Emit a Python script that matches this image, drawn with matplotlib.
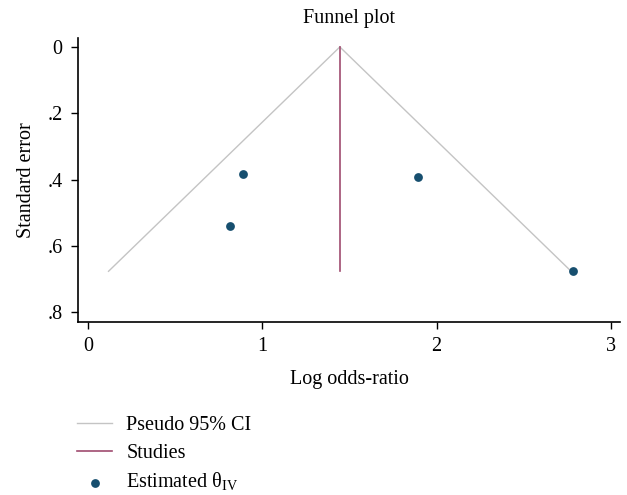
import matplotlib
matplotlib.use("Agg")
import matplotlib.pyplot as plt
import numpy as np

plt.rcParams['font.family'] = ['Liberation Serif', 'DejaVu Serif']
plt.rcParams['mathtext.fontset'] = 'custom'
plt.rcParams['mathtext.rm'] = 'Liberation Serif'

# study estimates (log odds-ratio) and their standard errors
log_or = [0.89, 0.815, 1.893, 2.78]
std_err = [0.384, 0.54, 0.393, 0.677]
theta_iv = 1.445
xticks = [0, 1, 2, 3]
yticks = [0, 0.2, 0.4, 0.6, 0.8]
ytick_labels = ["0", ".2", ".4", ".6", ".8"]

grey = "#c4c4c4"
maroon = "#a04c70"
navy = "#174f6f"
fs = 14.5

fig = plt.figure(figsize=(6.27, 4.95), dpi=100)
ax = fig.add_axes([78 / 627, 1 - 322 / 495, (620 - 78) / 627, (322 - 38) / 495])

# pseudo 95% CI funnel
se_max = max(std_err)
se_line = np.array([0, se_max])
ax.plot(theta_iv - 1.96 * se_line, se_line, color=grey, lw=1.0, label="Pseudo 95% CI")
ax.plot(theta_iv + 1.96 * se_line, se_line, color=grey, lw=1.0)
ax.plot([theta_iv, theta_iv], [0, se_max], color=maroon, lw=1.2, label="Studies")
ax.scatter(log_or, std_err, s=40, color=navy, zorder=3, linewidths=0,
           label="Estimated θ$_{\\rm IV}$")

ax.set_xlim(-0.057, 3.052)
ax.set_ylim(0.830, -0.027)
ax.set_xticks(xticks)
ax.set_yticks(yticks)
ax.set_yticklabels(ytick_labels)
ax.tick_params(direction='out', length=5, width=1, labelsize=fs, colors='black')
ax.tick_params(axis='x', pad=6)
ax.tick_params(axis='y', pad=6)
for s in ['top', 'right']:
    ax.spines[s].set_visible(False)
for s in ['left', 'bottom']:
    ax.spines[s].set_linewidth(1.2)

ax.set_title("Funnel plot", fontsize=fs, pad=11)
ax.set_xlabel("Log odds-ratio", fontsize=fs, labelpad=10)
ax.set_ylabel("Standard error", fontsize=fs, labelpad=8)

fig.legend(loc='upper left', bbox_to_anchor=(77 / 627, 1 - 416 / 495), frameon=False,
           fontsize=fs, handlelength=1.75, handletextpad=0.7, labelspacing=0.42,
           borderpad=0, borderaxespad=0)

fig.savefig("out.png", dpi=100)
